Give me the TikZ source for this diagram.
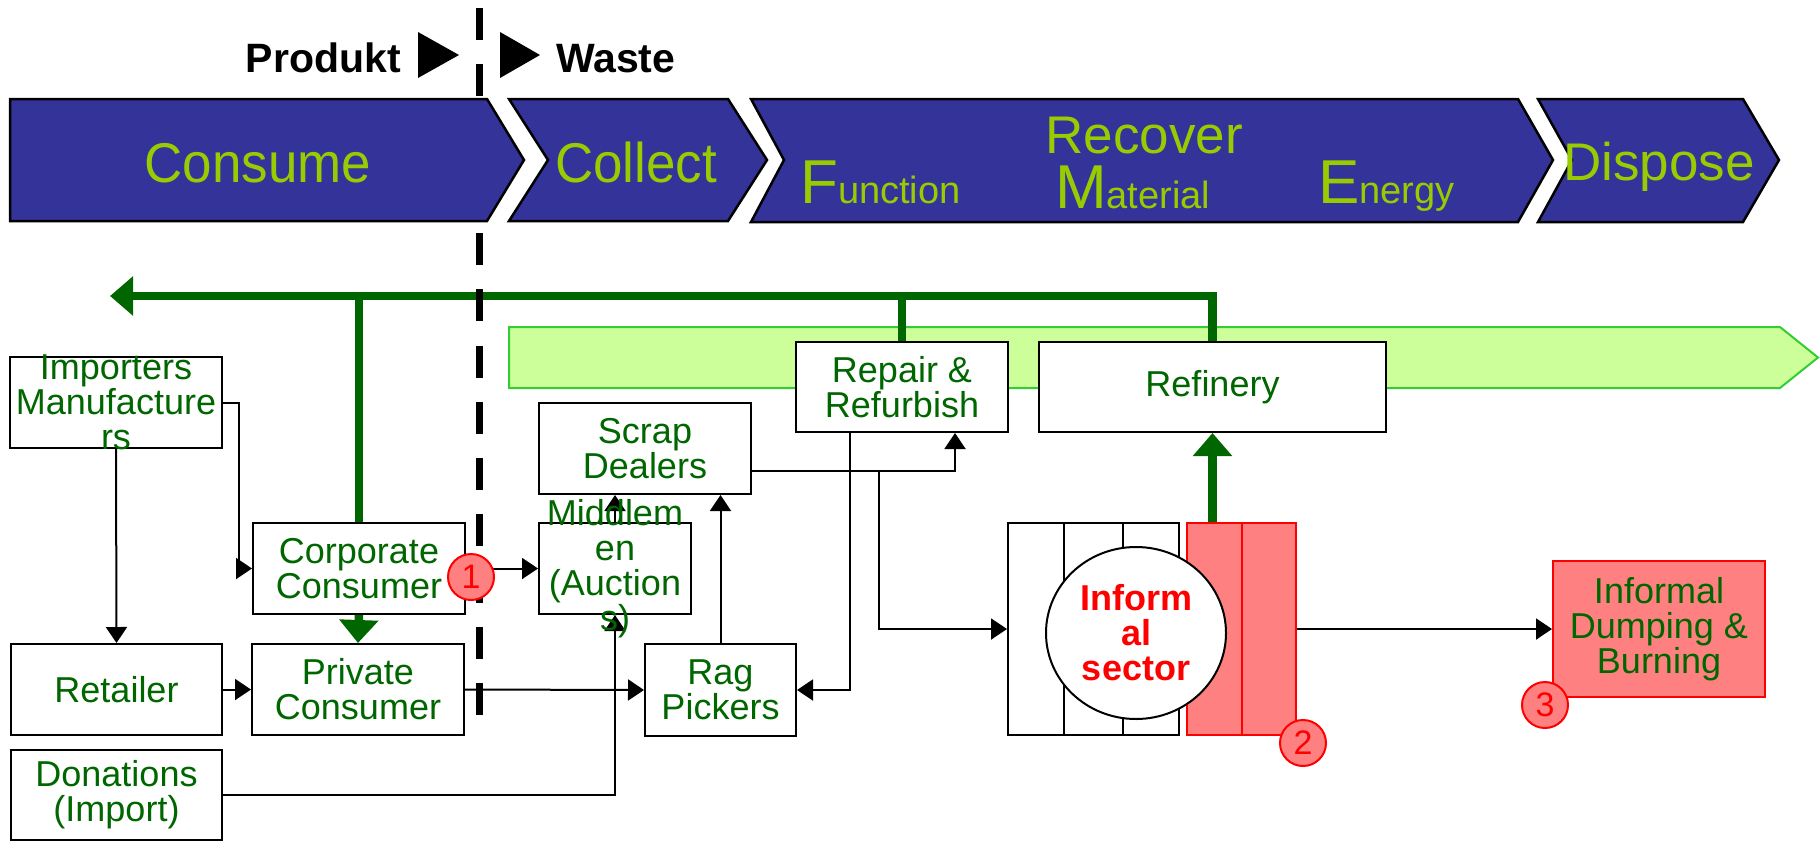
\documentclass[tikz,border=0pt]{standalone}
\usepackage{fontspec}
\setmainfont{Liberation Sans}
\newfontfamily\narrowfont[FakeStretch=0.945]{Liberation Sans}
\usetikzlibrary{arrows.meta,shapes.geometric}
\definecolor{chevfill}{HTML}{333399}
\definecolor{chevtext}{HTML}{99CC00}
\definecolor{dkgreen}{HTML}{006600}
\definecolor{palegreen}{HTML}{CCFF99}
\definecolor{barline}{HTML}{33CC33}
\definecolor{pinkred}{HTML}{FF8080}
\newcommand\fsz[2]{\fontsize{#1}{#2}\selectfont}
\begin{document}
\begin{tikzpicture}[x=1pt,y=-1pt,
  box/.style={draw=black, line width=2pt, fill=white, inner sep=0pt, align=center,
    text=dkgreen, font=\fsz{36}{35}},
  btext/.style={inner sep=0pt, align=center, text=dkgreen, font=\fsz{36}{35}},
  redbox/.style={draw=red, line width=2pt, fill=pinkred, inner sep=0pt, align=center,
    text=dkgreen, font=\fsz{36}{35}},
  chev/.style={draw=black, line width=2.5pt, fill=chevfill, line join=miter},
  chevtxt/.style={inner sep=0pt, text=chevtext},
  arr/.style={draw=black, line width=2pt, -{Triangle[length=16pt,width=21pt]}},
  gline/.style={draw=dkgreen, line width=8.5pt},
  garr/.style={draw=dkgreen, line width=8.5pt, -{Triangle[length=23pt,width=38pt]}},
  numc/.style={circle, draw=red, line width=2pt, fill=pinkred, minimum size=46pt,
    inner sep=0pt, text=red, font=\fsz{34}{34}},
  hdr/.style={inner sep=0pt, font=\bfseries\fsz{41}{41}, text=black}
]
\useasboundingbox (0,0) rectangle (1820,841);

% light green process band
\draw[draw=barline, line width=2pt, fill=palegreen]
  (509,327) -- (1780,327) -- (1818,357.5) -- (1780,388) -- (509,388) -- cycle;

% boxes
\node[box, minimum width=212pt, minimum height=91pt] (imp) at (116,402.5) {};
\node[box, minimum width=212pt, minimum height=91pt] (corp) at (359,568.5) {Corporate\\Consumer};
\node[box, minimum width=211pt, minimum height=91pt] (ret) at (116.5,689.5) {Retailer};
\node[box, minimum width=212pt, minimum height=91pt] (priv) at (358,689.5) {Private\\Consumer};
\node[box, minimum width=211pt, minimum height=90pt] (don) at (116.5,795) {Donations\\(Import)};
\node[box, minimum width=212pt, minimum height=91pt] (scrap) at (645,448.5) {Scrap\\Dealers};
\node[box, minimum width=152pt, minimum height=91pt] (mid) at (615,568.5) {};
\node[box, minimum width=151pt, minimum height=92pt] (rag) at (720.5,690) {Rag\\Pickers};
\node[box, minimum width=212pt, minimum height=90pt] (rep) at (902,387) {Repair \&\\Refurbish};
\node[box, minimum width=347pt, minimum height=90pt] (ref) at (1212.5,387) {Refinery};
\node[box, minimum width=171pt, minimum height=212pt] (infblk) at (1093.5,629) {};
\node[redbox, minimum width=109pt, minimum height=212pt] (redblk) at (1241.5,629) {};
\node[redbox, minimum width=212pt, minimum height=136pt] (dump) at (1659,629) {Informal\\Dumping \&\\Burning};

% columns of the informal block
\draw[line width=2pt] ([xshift=57pt]infblk.north west) -- ([xshift=57pt]infblk.south west);
\draw[line width=2pt] ([xshift=-57pt]infblk.north east) -- ([xshift=-57pt]infblk.south east);
\draw[red, line width=2pt] (redblk.north) -- (redblk.south);
\node[ellipse, draw=black, line width=2pt, fill=white, minimum width=180pt, minimum height=172pt,
  inner sep=0pt, align=center, text=red, font=\bfseries\fsz{36}{35}] (inf) at (1136,633) {Inform\\al\\sector};

% green feedback loop
\coordinate (fbtip) at (110,296);
\draw[garr] (ref.north) |- (fbtip);
\draw[gline] (rep.north) -- (rep.north |- fbtip);
\draw[gline] (corp.north) -- (corp.north |- fbtip);
\draw[garr] (corp.south) -- (priv.north);
\draw[garr] (ref.south |- redblk.north) -- (ref.south);

% black connectors
\draw[arr] (imp.south) -- (ret.north);
\draw[arr] (imp.east) -- ++(16,0) |- (corp.west);
\draw[arr] (ret.east) -- (priv.west);
\draw[arr] (corp.east) -- (mid.west);
\draw[arr] (priv.east) -- (rag.west);
\draw[arr] (don.east) -| (mid.south);
\draw[arr] (mid.north) -- (mid.north |- scrap.south);
\draw[arr] (rag.north) -- (rag.north |- scrap.south);
\draw[arr] ([yshift=-22.5pt]scrap.east) -| ([xshift=53pt]rep.south);
\coordinate (jn) at (879,471);
\draw[arr] (jn) |- (infblk.west);
\draw[arr] ([xshift=-52pt]rep.south) |- (rag.east);
\draw[arr] (redblk.east) -- (dump.west);

% overflowing box texts
\node[btext] at (imp.center) {Importers\\Manufacture\\rs};
\node[btext] at (mid.center) {Middlem\\en\\(Auction\\s)};

% product/waste divider
\draw[line width=7pt, dash pattern=on 32pt off 24.25pt] (479,8) -- (479,715);

% chevrons
\draw[chev] (10,99) -- (487,99) -- (524,160) -- (487,221) -- (10,221) -- cycle;
\draw[chev] (509,99) -- (728,99) -- (767,160) -- (728,221) -- (509,221) -- (548,160) -- cycle;
\draw[chev] (751,99) -- (1518,99) -- (1553,160) -- (1518,222) -- (751,222) -- (784,160) -- cycle;
\draw[chev] (1538,99) -- (1743,99) -- (1779,160) -- (1743,222) -- (1538,222) -- (1572,160) -- cycle;

\node[chevtxt, anchor=base, font=\narrowfont\fsz{56}{56}] (tcons) at (258,182) {Consume};
\node[chevtxt, anchor=base, font=\narrowfont\fsz{56}{56}] (tcoll) at (636,182) {Collect};
\node[chevtxt, anchor=base, font=\fsz{53}{53}] (trec) at (1144,153) {Recover};
\node[chevtxt, anchor=base west] (tfun) at (800,203) {\fsz{62}{62}F\fsz{38}{38}unction};
\node[chevtxt, anchor=base west] (tmat) at (1055,208) {\fsz{62}{62}M\fsz{38}{38}aterial};
\node[chevtxt, anchor=base west] (tene) at (1318,203) {\fsz{62}{62}E\fsz{38}{38}nergy};
\node[chevtxt, anchor=base, font=\fsz{53}{53}] (tdis) at (1659,180) {Dispose};

% header
\node[hdr, anchor=base east] (prod) at (401,72) {Produkt};
\node[hdr, anchor=base west] (waste) at (556,72) {Waste};
\fill[black] (418,32) -- (459,55) -- (418,78) -- cycle;
\fill[black] (500,32) -- (540,55) -- (500,78) -- cycle;

% numbered markers
\node[numc] (n1) at (471,577) {1};
\node[numc] (n2) at (1303,743) {2};
\node[numc] (n3) at (1545,705) {3};
\end{tikzpicture}
\end{document}
